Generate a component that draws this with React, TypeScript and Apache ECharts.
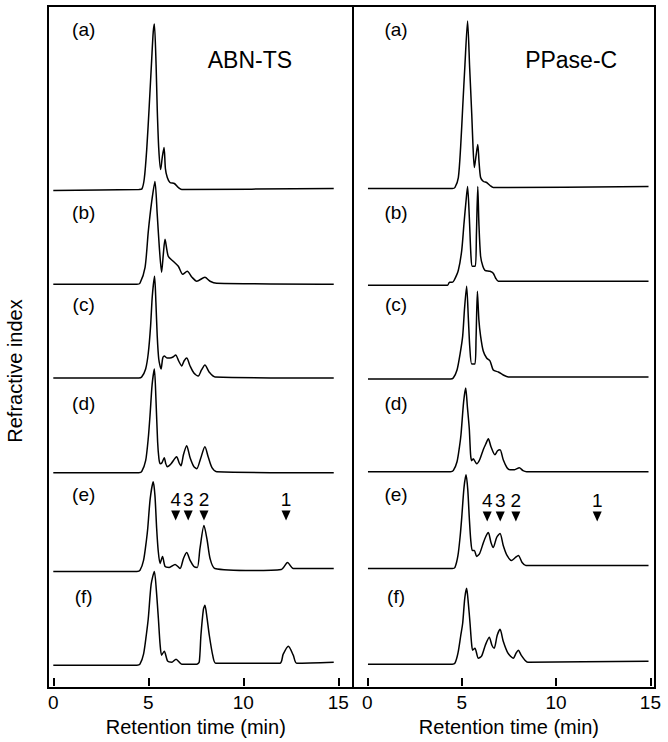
import React, { useEffect, useRef } from "react";
import * as echarts from "echarts";

// ---------- data ----------
const panelTitles = ["ABN-TS", "PPase-C"];
const traceLabels = ["(a)", "(b)", "(c)", "(d)", "(e)", "(f)"];
const xTitle = "Retention time (min)";
const yTitle = "Refractive index";

// ABN-TS traces: [retention time (min), detector response above baseline]
const ABN_a = [[0,-1],[4.5,0],[4.66,0.5],[4.79,11],[4.92,41],[5.05,84],[5.18,131],[5.26,158],[5.32,166],[5.41,125],[5.47,81],[5.55,41],[5.65,20],[5.74,33],[5.83,42],[5.9,21],[6.0,12],[6.14,7],[6.37,6],[6.58,2],[6.76,0],[14.76,1]];
const ABN_b = [[0,0],[4.4,0],[4.56,1],[4.83,17],[5.0,53],[5.18,83],[5.35,103],[5.47,70],[5.58,37],[5.7,12],[5.79,30],[5.88,45],[6.05,28],[6.31,23],[6.58,18],[6.81,10],[7.05,13],[7.3,7],[7.55,3],[7.98,7],[8.25,3],[8.6,1],[14.76,0]];
const ABN_c = [[0,0],[4.5,0],[4.65,1],[4.86,9],[5.0,25],[5.12,52],[5.21,82],[5.33,102],[5.4,76],[5.47,42],[5.55,19],[5.67,9],[5.76,20],[5.84,22],[6.0,20],[6.14,20],[6.3,21],[6.44,23],[6.6,17],[6.76,12],[6.88,17],[7.02,20],[7.2,12],[7.4,5],[7.63,2],[7.8,8],[7.98,13],[8.2,6],[8.51,1],[14.76,0]];
const ABN_d = [[0,0],[4.5,0],[4.65,1],[4.86,12],[5.0,35],[5.1,60],[5.2,88],[5.32,104],[5.4,75],[5.49,31],[5.56,14],[5.62,9],[5.72,10],[5.84,15],[5.92,9],[6.0,6],[6.2,9],[6.49,16],[6.62,10],[6.72,7],[6.85,18],[7.02,27],[7.2,15],[7.4,6],[7.55,4],[7.75,14],[7.98,26],[8.15,16],[8.35,5],[8.6,1],[14.76,0]];
const ABN_e = [[0,-1],[4.4,-1],[4.56,0],[4.75,10],[4.9,30],[4.97,42],[5.1,72],[5.26,89],[5.35,75],[5.44,42],[5.52,20],[5.62,7],[5.75,14],[5.88,4],[6.1,3],[6.41,6],[6.67,2],[6.85,12],[7.02,18],[7.2,10],[7.4,4],[7.58,3],[7.72,22],[7.93,45],[8.1,30],[8.25,12],[8.5,2],[10.5,0],[12.0,1],[12.33,8],[12.63,2],[14.76,2]];
const ABN_f = [[0,-1],[4.4,-1],[4.56,0],[4.75,10],[4.9,30],[5.0,46],[5.15,80],[5.32,93],[5.42,75],[5.53,46],[5.62,20],[5.7,9],[5.84,13],[6.02,3],[6.25,2],[6.46,5],[6.76,0],[7.55,0],[7.68,2],[7.77,29],[7.9,55],[7.98,59],[8.08,48],[8.21,29],[8.4,8],[8.55,1],[11.93,1],[12.1,10],[12.37,18],[12.63,9],[12.81,1],[14.76,2]];

// PPase-C traces
const PP_a = [[0.03,-1],[4.5,-1],[4.64,0],[4.82,10],[4.94,40],[5.05,80],[5.17,123],[5.31,167],[5.42,120],[5.53,74],[5.6,40],[5.67,20],[5.76,32],[5.85,43],[5.92,25],[6.0,10],[6.15,6],[6.32,5],[6.5,2],[6.67,0],[14.9,1]];
const PP_b = [[0.03,-2],[4.25,-2],[4.35,1],[4.5,1],[4.6,3],[4.82,13],[5.0,33],[5.12,60],[5.23,83],[5.31,97],[5.4,67],[5.49,27],[5.56,17],[5.72,17],[5.78,50],[5.85,97],[5.91,60],[6.0,27],[6.12,17],[6.23,13],[6.5,12],[6.67,10],[6.8,5],[6.94,2],[14.9,2]];
const PP_c = [[0.03,-1],[4.4,-1],[4.55,0],[4.75,8],[4.92,25],[5.05,42],[5.15,70],[5.26,92],[5.35,60],[5.43,30],[5.53,14],[5.7,14],[5.76,40],[5.83,87],[5.91,58],[6.0,42],[6.14,27],[6.32,20],[6.5,17],[6.67,8],[6.94,6],[7.2,3],[7.47,1],[14.9,1]];
const PP_d = [[0.03,0],[4.4,0],[4.55,1],[4.75,10],[4.88,25],[4.96,37],[5.1,70],[5.21,84],[5.3,65],[5.4,43],[5.47,17],[5.53,11],[5.61,13],[5.79,8],[5.95,12],[6.14,22],[6.28,28],[6.41,33],[6.55,25],[6.76,17],[6.9,21],[7.03,22],[7.2,12],[7.4,4],[7.56,2],[7.8,2],[8.05,4],[8.25,1],[8.44,0],[14.9,0]];
const PP_e = [[0.03,-1],[4.5,-1],[4.64,0],[4.8,12],[4.92,32],[5.0,50],[5.12,80],[5.23,93],[5.32,78],[5.4,50],[5.48,27],[5.56,17],[5.67,17],[5.79,11],[5.95,14],[6.15,25],[6.3,32],[6.41,35],[6.55,25],[6.67,20],[6.85,30],[7.03,34],[7.2,22],[7.4,12],[7.65,7],[7.85,10],[8.0,12],[8.2,5],[8.4,2],[14.9,2]];
const PP_f = [[0.03,-1],[4.5,-1],[4.64,0],[4.8,10],[4.95,28],[5.05,40],[5.16,65],[5.26,75],[5.35,60],[5.44,40],[5.52,20],[5.58,13],[5.7,15],[5.88,5],[6.05,7],[6.25,18],[6.46,26],[6.6,18],[6.72,15],[6.88,28],[7.03,34],[7.2,22],[7.45,10],[7.73,5],[7.88,10],[8.0,13],[8.15,8],[8.35,3],[8.5,1],[14.9,2]];

// vertical offsets of the stacked traces (response units)
const abnOffsets = [498, 403, 309, 214, 116, 22];
const ppOffsets = [500, 404, 309, 215, 119, 23];

// peak markers in trace (e)
const markerNames = ["4", "3", "2", "1"];
const abnMarkerTimes = [6.44, 7.1, 7.93, 12.25];
const ppMarkerTimes = [6.35, 7.04, 7.87, 12.18];
const abnMarkerLevel = 55;
const ppMarkerLevel = 51;

// label positions (time, response)
const abnLabelTime = 1.6;
const ppLabelTime = 1.52;
const labelLevels = [658, 475, 383, 283, 192, 90];
const titleTimes = [10.35, 10.8];
const titleLevel = 628;

const xMin = 0;
const xMax = 15;
const xStep = 5;
const yMax = 682;

const FONT = "'Liberation Sans', Arial, Helvetica, sans-serif";

export default function App() {
  const ref = useRef<HTMLDivElement>(null);

  useEffect(() => {
    if (!ref.current) return;
    const chart = echarts.init(ref.current, null, { renderer: "svg" });

    const panels = [
      { traces: [ABN_a, ABN_b, ABN_c, ABN_d, ABN_e, ABN_f], offsets: abnOffsets, markers: abnMarkerTimes, mlevel: abnMarkerLevel, ltime: abnLabelTime },
      { traces: [PP_a, PP_b, PP_c, PP_d, PP_e, PP_f], offsets: ppOffsets, markers: ppMarkerTimes, mlevel: ppMarkerLevel, ltime: ppLabelTime },
    ];

    const series: any[] = [];
    panels.forEach((p, pi) => {
      p.traces.forEach((tr, ti) => {
        series.push({
          type: "line",
          xAxisIndex: pi,
          yAxisIndex: pi,
          data: tr.map(([t, h]) => [t, p.offsets[ti] + h]),
          showSymbol: false,
          smooth: 0.25,
          clip: false,
          silent: true,
          lineStyle: { color: "#000", width: 1.5 },
        });
      });
      series.push({
        type: "scatter",
        xAxisIndex: pi,
        yAxisIndex: pi,
        symbol: "triangle",
        symbolRotate: 180,
        symbolSize: [9, 10],
        itemStyle: { color: "#000", opacity: 1 },
        silent: true,
        label: {
          show: true,
          position: "top",
          distance: 2,
          formatter: "{b}",
          fontSize: 19,
          fontFamily: FONT,
          color: "#000",
        },
        data: p.markers.map((t, i) => ({ name: markerNames[i], value: [t, p.offsets[4] + p.mlevel] })),
      });
      series.push({
        type: "scatter",
        xAxisIndex: pi,
        yAxisIndex: pi,
        symbolSize: 1,
        itemStyle: { color: "rgba(0,0,0,0)", opacity: 1 },
        silent: true,
        label: {
          show: true,
          position: "inside",
          formatter: "{b}",
          fontSize: 19,
          fontFamily: FONT,
          color: "#000",
        },
        data: traceLabels.map((s, i) => ({ name: s, value: [p.ltime, labelLevels[i]] })),
      });
      series.push({
        type: "scatter",
        xAxisIndex: pi,
        yAxisIndex: pi,
        symbolSize: 1,
        itemStyle: { color: "rgba(0,0,0,0)", opacity: 1 },
        silent: true,
        label: {
          show: true,
          position: "inside",
          formatter: "{b}",
          fontSize: 23,
          fontFamily: FONT,
          color: "#000",
        },
        data: [{ name: panelTitles[pi], value: [titleTimes[pi], titleLevel] }],
      });
    });

    const dataX = (gi: number) => ({
      type: "value",
      gridIndex: gi,
      min: xMin,
      max: xMax,
      interval: xStep,
      axisLine: { show: false },
      axisTick: { show: true, inside: true, length: 8, lineStyle: { color: "#000", width: 2 } },
      axisLabel: { fontSize: 19, color: "#000", fontFamily: FONT, margin: 7 },
      splitLine: { show: false },
      name: xTitle,
      nameLocation: "middle",
      nameGap: 28,
      nameTextStyle: { fontSize: 20, color: "#000", fontFamily: FONT },
    });
    const hidden = (gi: number) => ({ type: "value", gridIndex: gi, show: false, min: 0, max: 1, splitLine: { show: false } });

    chart.setOption({
      animation: false,
      backgroundColor: "#fff",
      textStyle: { fontFamily: FONT },
      grid: [
        { left: 53.3, top: 6, width: 285, height: 682 },
        { left: 367.4, top: 6, width: 283, height: 682 },
        { left: 48, top: 6, width: 305, height: 682, show: true, borderColor: "#000", borderWidth: 2, backgroundColor: "transparent" },
        { left: 353, top: 6, width: 302, height: 682, show: true, borderColor: "#000", borderWidth: 2, backgroundColor: "transparent" },
      ],
      xAxis: [dataX(0), dataX(1), hidden(2), hidden(3)],
      yAxis: [
        { type: "value", gridIndex: 0, min: 0, max: yMax, show: false, splitLine: { show: false } },
        { type: "value", gridIndex: 1, min: 0, max: yMax, show: false, splitLine: { show: false } },
        hidden(2),
        hidden(3),
      ],
      series,
      graphic: [
        {
          type: "text",
          x: 15,
          y: 371,
          rotation: Math.PI / 2,
          style: { text: yTitle, fontSize: 20, fontFamily: FONT, fill: "#000", align: "center", verticalAlign: "middle" },
        },
      ],
    });

    return () => chart.dispose();
  }, []);

  return <div ref={ref} style={{ position: "fixed", left: 0, top: 0, width: 668, height: 742, background: "#fff" }} />;
}
